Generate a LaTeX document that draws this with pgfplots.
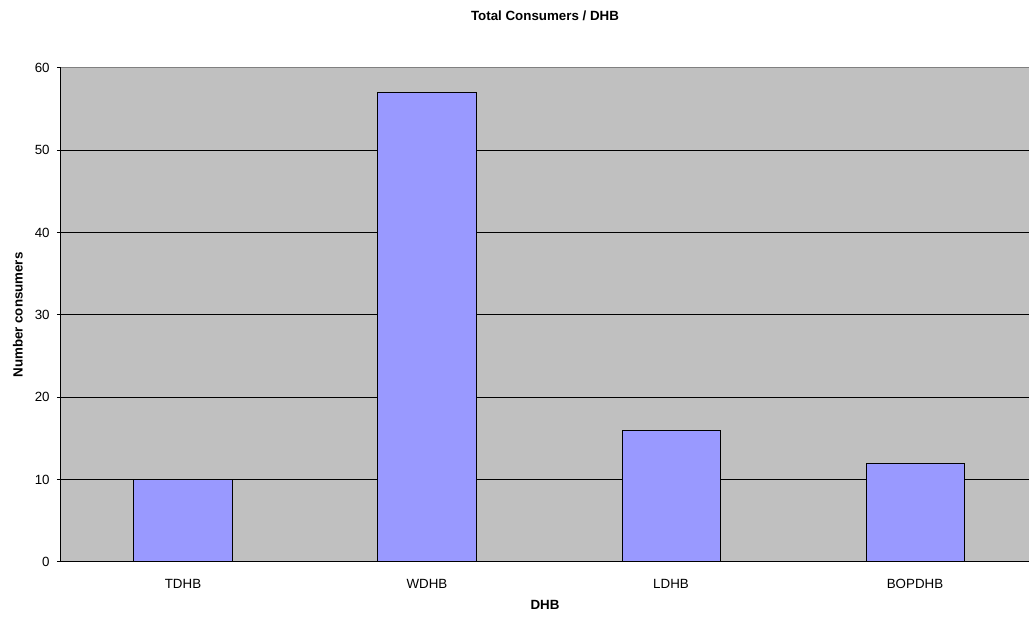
\documentclass[border=0pt]{standalone}
\usepackage{pgfplots}
\pgfplotsset{compat=1.18}
\usepackage{fontspec}
\setmainfont{Liberation Sans}
\definecolor{plotbg}{HTML}{C0C0C0}
\definecolor{barfill}{HTML}{9999FF}
\begin{document}
\begin{tikzpicture}
\path[use as bounding box] (-45.75pt,-45.75pt) rectangle (726pt,421.5pt);
\begin{axis}[
  at={(0pt,0pt)}, anchor=south west,
  scale only axis,
  width=732pt, height=370.5pt,
  xmin=-0.5, xmax=3.5,
  ymin=0, ymax=60,
  ytick={0,10,...,60},
  xtick={0,1,2,3},
  xticklabels={TDHB,WDHB,LDHB,BOPDHB},
  extra x ticks={-0.5,0.5,1.5,2.5,3.5},
  extra x tick labels={},
  extra x tick style={major tick length=3pt, tick style={black, line width=0.75pt}},
  x tick style={draw=none},
  y tick style={black, line width=0.75pt},
  major tick length=3pt,
  tick align=outside,
  axis x line*=bottom,
  axis y line*=left,
  axis line style={black, line width=0.75pt, -},
  ymajorgrids,
  grid style={black, line width=0.75pt},
  axis background/.style={fill=plotbg},
  ybar,
  bar width=73.5pt,
  bar shift=0pt,
  /pgf/number format/assume math mode=true,
  tick label style={font=\fontsize{10}{12}\selectfont},
  yticklabel style={xshift=-2pt},
  xticklabel style={yshift=-6pt, text height=7.2pt, text depth=0pt},
  title={Total Consumers / DHB},
  title style={font=\fontsize{10}{12}\selectfont\bfseries, at={(axis description cs:0.4959,1)}, anchor=center, yshift=33.5pt},
  xlabel={DHB},
  xlabel style={font=\fontsize{10}{12}\selectfont\bfseries, at={(axis description cs:0.4959,-0.087)}, anchor=center},
  ylabel={Number consumers},
  ylabel style={font=\fontsize{10}{12}\selectfont\bfseries, at={(axis description cs:-0.0441,0.5)}, anchor=center},
  clip=false,
]
\addplot[fill=barfill, draw=black, line width=0.75pt] coordinates {(0,10) (1,57) (2,16) (3,12)};
\draw[color=gray, line width=0.75pt] (rel axis cs:0,1) -- (rel axis cs:1,1);
\end{axis}
\end{tikzpicture}
\end{document}
